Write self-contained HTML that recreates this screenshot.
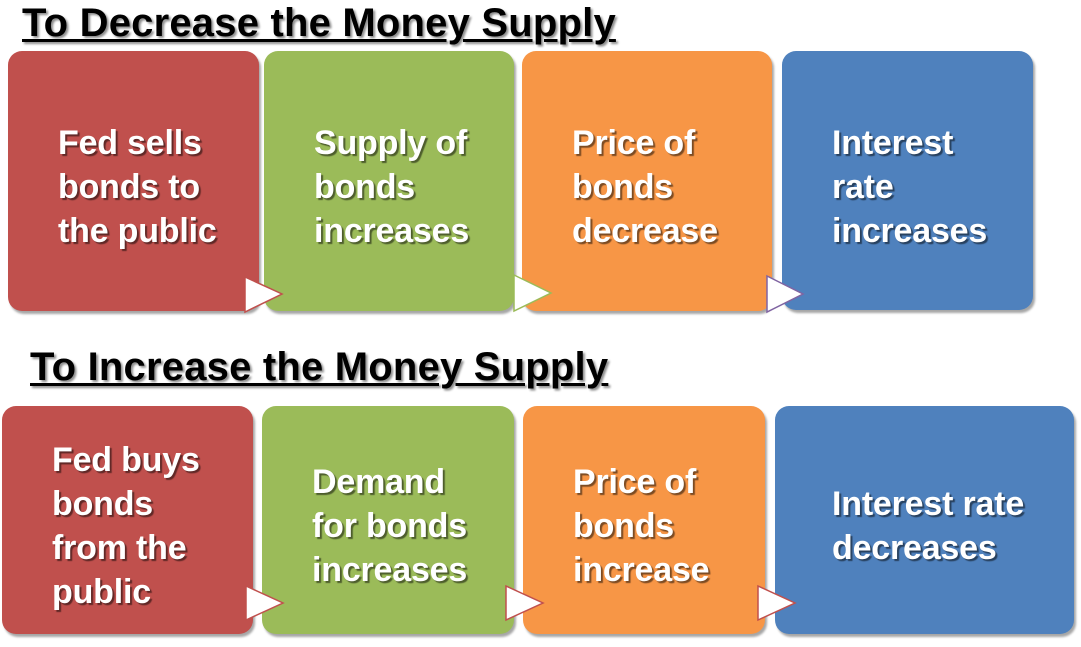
<!DOCTYPE html>
<html><head><meta charset="utf-8"><style>
body{margin:0;width:1081px;height:647px;background:#fff;position:relative;overflow:hidden;font-family:"Liberation Sans",Arial,sans-serif}
.title{position:absolute;font-weight:bold;font-size:40px;line-height:46px;color:#000;text-decoration:underline;text-decoration-thickness:3px;text-underline-offset:3px;text-shadow:2px 2px 2px rgba(0,0,0,.45);white-space:nowrap;letter-spacing:0.2px}
.box{position:absolute;border-radius:14px;box-shadow:2px 3px 2px rgba(0,0,0,.35);display:flex;align-items:center;box-sizing:border-box;padding-left:50px;padding-top:12px}
.box span{color:#fff;font-weight:bold;font-size:34px;line-height:44px;text-shadow:2px 2px 1px rgba(0,0,0,.5);letter-spacing:-0.2px}
.red{background:#c0504d}.green{background:#9bbb59}.orange{background:#f79646}.blue{background:#4f81bd}
svg.arr{position:absolute;overflow:visible}
</style></head><body>
<div class="title" style="left:22px;top:0px">To Decrease the Money Supply</div>
<div class="box red" style="left:8px;top:51px;width:251px;height:260px"><span>Fed sells<br>bonds to<br>the public</span></div>
<div class="box green" style="left:264px;top:51px;width:250px;height:260px"><span>Supply of<br>bonds<br>increases</span></div>
<div class="box orange" style="left:522px;top:51px;width:250px;height:260px"><span>Price of<br>bonds<br>decrease</span></div>
<div class="box blue" style="left:782px;top:51px;width:251px;height:259px"><span>Interest<br>rate<br>increases</span></div>

<div class="title" style="left:30px;top:344px">To Increase the Money Supply</div>
<div class="box red" style="left:2px;top:406px;width:251px;height:228px"><span>Fed buys<br>bonds<br>from the<br>public</span></div>
<div class="box green" style="left:262px;top:406px;width:252px;height:228px"><span>Demand<br>for bonds<br>increases</span></div>
<div class="box orange" style="left:523px;top:406px;width:242px;height:228px"><span>Price of<br>bonds<br>increase</span></div>
<div class="box blue" style="left:775px;top:406px;width:299px;height:228px;padding-left:57px"><span>Interest rate<br>decreases</span></div>

<svg class="arr" style="left:244px;top:276px" width="40" height="38"><polygon points="1,1 38,18 1,36" fill="#fff" stroke="#c0504d" stroke-width="1.5"/></svg>
<svg class="arr" style="left:513px;top:274px" width="40" height="38"><polygon points="1,1 38,19 1,37" fill="#fff" stroke="#9bbb59" stroke-width="1.5"/></svg>
<svg class="arr" style="left:766px;top:275px" width="40" height="38"><polygon points="1,1 37,19 1,37" fill="#fff" stroke="#8064a2" stroke-width="1.5"/></svg>
<svg class="arr" style="left:245px;top:585px" width="40" height="38"><polygon points="1,1 38,18 1,35" fill="#fff" stroke="#c0504d" stroke-width="1.5"/></svg>
<svg class="arr" style="left:505px;top:585px" width="40" height="38"><polygon points="1,1 38,18 1,35" fill="#fff" stroke="#c0504d" stroke-width="1.5"/></svg>
<svg class="arr" style="left:757px;top:585px" width="40" height="38"><polygon points="1,1 38,18 1,35" fill="#fff" stroke="#c0504d" stroke-width="1.5"/></svg>
</body></html>
